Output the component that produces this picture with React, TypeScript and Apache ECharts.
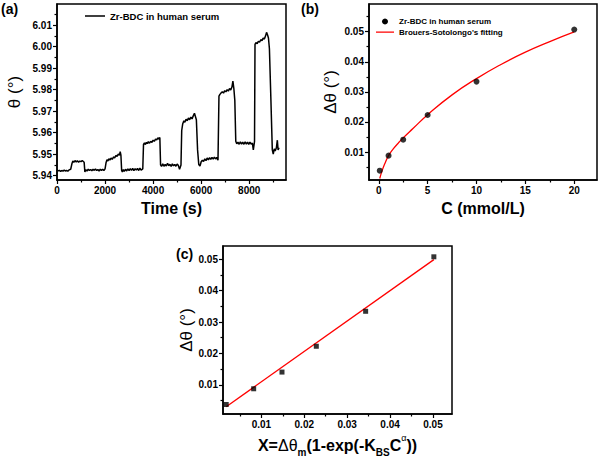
import React, { useEffect, useRef } from "react";
import * as echarts from "echarts";

// ---------- data (a) : SPR angle vs time ----------
const timeS = [
  0, 50, 100, 150, 200, 250, 300, 350, 400, 450, 500, 570,
  620, 660, 700, 750, 800, 850, 900, 950, 1000, 1050, 1100, 1130,
  1160, 1200, 1250, 1300, 1350, 1400, 1450, 1500, 1550, 1600, 1650, 1700, 1750, 1800, 1850, 1900, 1950, 2000,
  2040, 2080, 2120, 2160, 2200, 2250, 2300, 2350, 2400, 2450, 2500, 2550, 2600, 2630, 2660,
  2690, 2720, 2760, 2800, 2850, 2900, 2950, 3000, 3050, 3100, 3150, 3200, 3250, 3300, 3350, 3400, 3450, 3500, 3570,
  3600, 3640, 3680, 3720, 3760, 3800, 3850, 3900, 3950, 4000, 4050, 4100, 4150, 4200, 4250, 4280,
  4310, 4350, 4400, 4450, 4500, 4550, 4600, 4650, 4700, 4750, 4800, 4850, 4900, 4950, 5000, 5050, 5100,
  5160, 5190, 5230, 5280, 5320, 5370, 5420, 5470, 5520, 5570, 5620, 5670, 5720, 5760, 5800,
  5850, 5900, 5950, 6000, 6050, 6100, 6150, 6200, 6250, 6300, 6350, 6400, 6450, 6500, 6550, 6600, 6650, 6700,
  6740, 6780, 6830, 6880, 6930, 6980, 7030, 7080, 7130, 7180, 7230, 7280, 7320, 7360, 7400,
  7440, 7480, 7530, 7580, 7630, 7680, 7730, 7780, 7830, 7880, 7930, 7980, 8030, 8080, 8130, 8170,
  8220, 8240, 8280, 8330, 8380, 8430, 8480, 8530, 8580, 8630, 8680, 8720, 8760, 8800, 8840,
  8900, 8960, 9000, 9040, 9080, 9130, 9170, 9200, 9240,
];
const thetaDeg = [
  5.9428, 5.9422, 5.9425, 5.942, 5.9424, 5.9421, 5.9426, 5.9422, 5.9424, 5.9421, 5.9427, 5.943,
  5.9455, 5.9468, 5.9462, 5.947, 5.9464, 5.9469, 5.9463, 5.9468, 5.9465, 5.947, 5.9466, 5.9462,
  5.9418, 5.9428, 5.9422, 5.943, 5.9424, 5.9429, 5.9423, 5.943, 5.9425, 5.9431, 5.9424, 5.9429, 5.9422, 5.943, 5.9425, 5.943, 5.9424, 5.9432,
  5.946, 5.9474, 5.9468, 5.9479, 5.9472, 5.9482, 5.9476, 5.9487, 5.9483, 5.9494, 5.949, 5.95, 5.9496, 5.9512, 5.9495,
  5.9425, 5.9418, 5.9428, 5.942, 5.943, 5.9422, 5.9432, 5.9424, 5.9433, 5.9425, 5.9434, 5.9423, 5.9433, 5.9426, 5.9434, 5.9424, 5.9435, 5.9426, 5.9432,
  5.9545, 5.9552, 5.9545, 5.9555, 5.9549, 5.9558, 5.9551, 5.956, 5.9555, 5.9565, 5.956, 5.957, 5.9566, 5.9576, 5.957, 5.9578,
  5.945, 5.9443, 5.9455, 5.9444, 5.9452, 5.9445, 5.9458, 5.9446, 5.9453, 5.9443, 5.9455, 5.9446, 5.9452, 5.9444, 5.9454, 5.9447, 5.943,
  5.945, 5.961, 5.964, 5.9655, 5.9648, 5.9662, 5.9656, 5.9668, 5.966, 5.9672, 5.9664, 5.9678, 5.969, 5.9675, 5.966,
  5.952, 5.9452, 5.9445, 5.9465, 5.9472, 5.9466, 5.9478, 5.947, 5.9482, 5.9474, 5.9484, 5.9476, 5.9485, 5.9477, 5.9486, 5.9478, 5.9485, 5.9472,
  5.977, 5.9778, 5.9785, 5.979, 5.9784, 5.9795, 5.979, 5.98, 5.9793, 5.9805, 5.9798, 5.9812, 5.984, 5.9805, 5.975,
  5.956, 5.9548, 5.9556, 5.9546, 5.9557, 5.9547, 5.9556, 5.9546, 5.9557, 5.9547, 5.9556, 5.9546, 5.9556, 5.9547, 5.9552, 5.952,
  5.956, 6.001, 6.0018, 6.0014, 6.0025, 6.002, 6.0032, 6.0028, 6.004, 6.0035, 6.005, 6.0066, 6.0055, 6.004, 5.999,
  5.976, 5.952, 5.95, 5.9525, 5.9515, 5.953, 5.9565, 5.952, 5.953,
];
const timeTicks = [0, 2000, 4000, 6000, 8000];
const timeMinorTicks = [1000, 3000, 5000, 7000, 9000];
const thetaTicks = [5.94, 5.95, 5.96, 5.97, 5.98, 5.99, 6.0, 6.01];
const thetaMinorTicks = [5.945, 5.955, 5.965, 5.975, 5.985, 5.995, 6.005, 6.015];

// ---------- data (b) : response vs concentration ----------
const concC = [0.1, 1, 2.5, 5, 10, 20];
const deltaTheta = [0.0038, 0.0088, 0.0141, 0.0223, 0.0334, 0.0507];
const fitC = [0.1, 0.3, 0.6, 1, 1.5, 2, 2.5, 3.5, 5, 7.5, 10, 12.5, 15, 17.5, 20];
const fitDelta = [0.0012, 0.0034, 0.006, 0.0088, 0.0111, 0.013, 0.0147, 0.0178, 0.0224, 0.029, 0.0344, 0.0391, 0.0432, 0.0467, 0.0499];
const cTicks = [0, 5, 10, 15, 20];
const cMinorTicks = [2.5, 7.5, 12.5, 17.5];
const dTicks = [0.01, 0.02, 0.03, 0.04, 0.05];
const dMinorTicks = [0.005, 0.015, 0.025, 0.035, 0.045, 0.055];

// ---------- data (c) : linearization ----------
const xLin = [0.0018, 0.0082, 0.0148, 0.0228, 0.0343, 0.0502];
const lineX = [0.0018, 0.0502];
const lineY = [0.0031, 0.0498];
const xTicksC = [0.01, 0.02, 0.03, 0.04, 0.05];
const xMinorTicksC = [0.005, 0.015, 0.025, 0.035, 0.045];

const FONT = "'Liberation Sans', Arial, sans-serif";
const zip = (a: number[], b: number[]) => a.map((v, i) => [v, b[i]]);
// legend line icon: thin bar centred in a 20x10 box
const LINE_ICON_A = "path://M0,0h0.01v0.01h-0.01z M0,4.3h20v1.4h-20z M19.99,9.99h0.01v0.01h-0.01z";
const LINE_ICON_B = "path://M0,0h0.01v0.01h-0.01z M0,2.45h18v1.1h-18z M17.99,5.99h0.01v0.01h-0.01z";

function axisPair(
  grid: number,
  position: string,
  min: number,
  max: number,
  major: number[],
  minor: number[],
  fmt: (v: number) => string,
  extra: any
) {
  const base = {
    type: "value",
    gridIndex: grid,
    position,
    offset: 0,
    min,
    max,
    scale: true,
    splitLine: { show: false },
  };
  return [
    {
      ...base,
      axisLine: { show: true, onZero: false, lineStyle: { color: "#000", width: 1.5 } },
      axisTick: { show: true, inside: false, length: 4, customValues: major, lineStyle: { color: "#000", width: 1.2 } },
      axisLabel: {
        show: true,
        customValues: major,
        formatter: fmt,
        color: "#000",
        fontFamily: FONT,
        fontWeight: "bold",
        fontSize: 10,
        margin: 5,
      },
      ...extra,
    },
    {
      ...base,
      axisLine: { show: false, onZero: false },
      axisTick: { show: true, inside: false, length: 2.5, customValues: minor, lineStyle: { color: "#000", width: 1.2 } },
      axisLabel: { show: false },
    },
  ];
}

export default function App() {
  const ref = useRef<HTMLDivElement>(null);
  useEffect(() => {
    if (!ref.current) return;
    const chart = echarts.init(ref.current, null, { renderer: "svg" });
    const gridStyle = { show: true, borderColor: "#000", borderWidth: 1.5, backgroundColor: "transparent", containLabel: false };
    const titleBold = { color: "#000", fontFamily: FONT, fontWeight: "bold", fontSize: 16 };
    const titleY = { color: "#000", fontFamily: FONT, fontWeight: "normal", fontSize: 17 };

    const xa = axisPair(0, "bottom", 0, 9530, timeTicks, timeMinorTicks, (v) => String(v), {
      name: "Time (s)",
      nameLocation: "middle",
      nameGap: 20,
      nameTextStyle: titleBold,
    });
    const ya = axisPair(0, "left", 5.938, 6.0198, thetaTicks, thetaMinorTicks, (v) => v.toFixed(2), {
      name: "θ (°)",
      nameLocation: "middle",
      nameRotate: 90,
      nameGap: 34,
      nameTextStyle: titleY,
    });
    const xb = axisPair(1, "bottom", -1, 22.33, cTicks, cMinorTicks, (v) => String(v), {
      name: "C (mmol/L)",
      nameLocation: "middle",
      nameGap: 20,
      nameTextStyle: titleBold,
    });
    const yb = axisPair(1, "left", 0.0007, 0.0592, dTicks, dMinorTicks, (v) => v.toFixed(2), {
      name: "Δθ (°)",
      nameLocation: "middle",
      nameRotate: 90,
      nameGap: 30,
      nameTextStyle: titleY,
    });
    const xc = axisPair(2, "bottom", 0.00105, 0.05443, xTicksC, xMinorTicksC, (v) => v.toFixed(2), {
      name: "{b|X=}{g|Δθ}{sub|m}{b|(1-exp(-K}{sub|BS}{b|C}{sup|α}{b|))}",
      nameLocation: "middle",
      nameGap: 19,
      nameTextStyle: {
        color: "#000",
        fontFamily: FONT,
        rich: {
          b: { fontFamily: FONT, fontWeight: "bold", fontSize: 16, lineHeight: 24, color: "#000" },
          g: { fontFamily: FONT, fontWeight: "normal", fontSize: 16, lineHeight: 24, color: "#000" },
          sub: { fontFamily: FONT, fontWeight: "bold", fontSize: 10, lineHeight: 12, verticalAlign: "bottom", color: "#000" },
          sup: { fontFamily: FONT, fontWeight: "normal", fontSize: 9, lineHeight: 16, verticalAlign: "top", color: "#000" },
        },
      },
    });
    const yc = axisPair(2, "left", 0.00079, 0.05413, dTicks, dMinorTicks, (v) => v.toFixed(2), {
      name: "Δθ (°)",
      nameLocation: "middle",
      nameRotate: 90,
      nameGap: 22,
      nameTextStyle: titleY,
    });

    const option: any = {
      animation: false,
      backgroundColor: "#fff",
      textStyle: { fontFamily: FONT },
      grid: [
        { ...gridStyle, left: 57, top: 4, width: 229, height: 176 },
        { ...gridStyle, left: 369, top: 4, width: 228, height: 176 },
        { ...gridStyle, left: 223, top: 246, width: 229, height: 168 },
      ],
      xAxis: [xa[0], xa[1], xb[0], xb[1], xc[0], xc[1]],
      yAxis: [ya[0], ya[1], yb[0], yb[1], yc[0], yc[1]],
      legend: [
        {
          orient: "vertical",
          left: 85,
          top: 11,
          padding: 0,
          itemWidth: 20,
          itemHeight: 10,
          data: [{ name: "Zr-BDC in human serum", icon: LINE_ICON_A }],
          textStyle: { color: "#000", fontFamily: FONT, fontWeight: "bold", fontSize: 9.5 },
        },
        {
          orient: "vertical",
          left: 376,
          top: 16.5,
          padding: 0,
          itemGap: 0.6,
          itemWidth: 18,
          itemHeight: 6,
          data: [
            { name: "Zr-BDC in human serum", icon: "circle" },
            { name: "Brouers-Sotolongo's fitting", icon: LINE_ICON_B },
          ],
          textStyle: { color: "#000", fontFamily: FONT, fontWeight: "bold", fontSize: 8, lineHeight: 10 },
        },
      ],
      series: [
        {
          name: "Zr-BDC in human serum",
          type: "line",
          xAxisIndex: 0,
          yAxisIndex: 0,
          data: zip(timeS, thetaDeg),
          symbol: "none",
          color: "#000",
          lineStyle: { color: "#000", width: 1.5 },
        },
        {
          name: "Zr-BDC in human serum",
          type: "scatter",
          xAxisIndex: 2,
          yAxisIndex: 2,
          data: zip(concC, deltaTheta),
          symbol: "circle",
          symbolSize: 6,
          itemStyle: { color: "#000" },
          z: 3,
        },
        {
          name: "Brouers-Sotolongo's fitting",
          type: "line",
          xAxisIndex: 2,
          yAxisIndex: 2,
          data: zip(fitC, fitDelta),
          symbol: "none",
          smooth: true,
          color: "#ff0000",
          lineStyle: { color: "#ff0000", width: 1.3 },
          z: 2,
        },
        {
          name: "linear points",
          type: "scatter",
          xAxisIndex: 4,
          yAxisIndex: 4,
          data: zip(xLin, deltaTheta),
          symbol: "rect",
          symbolSize: 5,
          itemStyle: { color: "#000" },
          z: 3,
        },
        {
          name: "linear fit",
          type: "line",
          xAxisIndex: 4,
          yAxisIndex: 4,
          data: zip(lineX, lineY),
          symbol: "none",
          color: "#ff0000",
          lineStyle: { color: "#ff0000", width: 1.3 },
          z: 2,
        },
      ],
      graphic: [
        { type: "text", left: 1, top: 2, style: { text: "(a)", fill: "#000", font: `bold 14px ${FONT}` } },
        { type: "text", left: 301, top: 2, style: { text: "(b)", fill: "#000", font: `bold 14px ${FONT}` } },
        { type: "text", left: 176, top: 247, style: { text: "(c)", fill: "#000", font: `bold 14px ${FONT}` } },
      ],
    };
    chart.setOption(option);
    return () => chart.dispose();
  }, []);
  return (
    <div
      ref={ref}
      style={{ position: "fixed", left: 0, top: 0, width: 600, height: 460, background: "#fff" }}
    />
  );
}
